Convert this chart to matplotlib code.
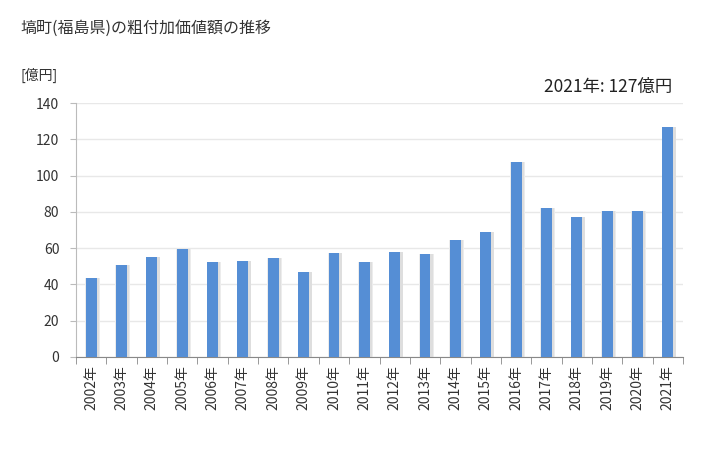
import numpy as np
import matplotlib
matplotlib.use("Agg")
import matplotlib.pyplot as plt

plt.rcParams['font.family'] = ['Noto Sans CJK JP', 'DejaVu Sans']

# Data
years = [f"{y}年" for y in range(2002, 2022)]
values = [43.5, 50.7, 55.1, 59.5, 52.4, 52.9, 54.6, 46.9, 57.3, 52.4,
          57.9, 56.8, 64.5, 68.9, 107.5, 82.1, 77.2, 80.5, 80.5, 127.0]
yticks = [0, 20, 40, 60, 80, 100, 120, 140]

fig = plt.figure(figsize=(7.28, 4.5), dpi=100)
ax = fig.add_axes([0.1044, 0.2067, 0.8338, 0.5644])

x = np.arange(len(years))
# soft halo / shadow behind each bar
ax.bar(x + 0.04, values, width=0.48, color="#ececec", zorder=2)
ax.bar(x + 0.05, values, width=0.42, color="#dedede", zorder=2)
ax.bar(x, values, width=0.36, color="#558ed5", zorder=3)

ax.set_xlim(-0.5, len(years) - 0.5)
ax.set_ylim(0, 140)
ax.set_yticks(yticks)
ax.yaxis.grid(True, color="#e8e8e8", linewidth=1, zorder=0)

ax.set_xticks(x)
ax.set_xticklabels(years, rotation=90, fontsize=10, color="#333333")
ax.set_xticks(np.arange(len(years) + 1) - 0.5, minor=True)
ax.tick_params(axis="x", which="major", length=0, pad=6)
ax.tick_params(axis="x", which="minor", length=5, color="#888888")
ax.tick_params(axis="y", length=4, color="#bbbbbb", labelsize=10, labelcolor="#333333", pad=8)

for s in ["top", "right"]:
    ax.spines[s].set_visible(False)
ax.spines["left"].set_color("#bbbbbb")
ax.spines["bottom"].set_color("#888888")

fig.text(20 / 728, 1 - 28 / 450, "塙町(福島県)の粗付加価値額の推移", fontsize=11.5,
         va="center", ha="left", color="#333333")
fig.text(20 / 728, 1 - 75 / 450, "[億円]", fontsize=10, va="center", ha="left", color="#333333")
fig.text(672 / 728, 1 - 87 / 450, "2021年: 127億円", fontsize=12.5, va="center", ha="right",
         color="#222222")

fig.savefig("out.png", dpi=100)
